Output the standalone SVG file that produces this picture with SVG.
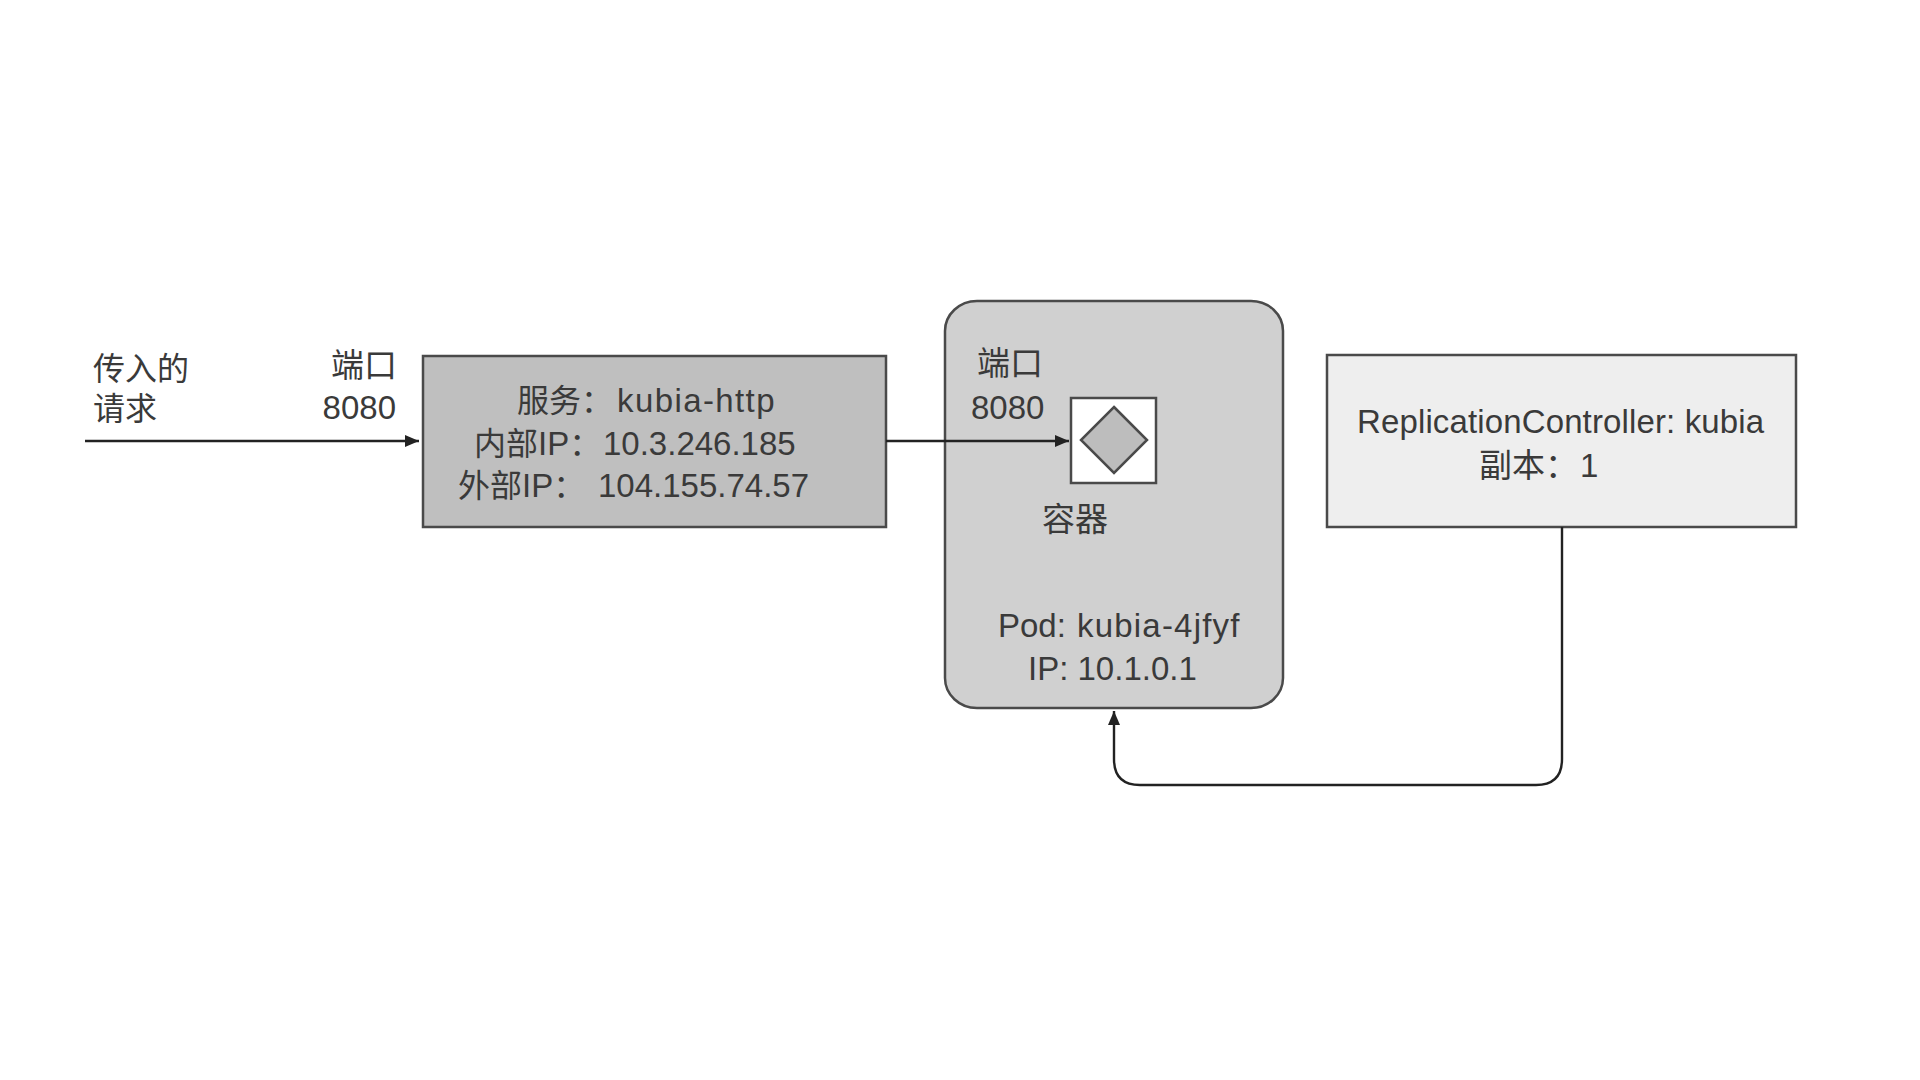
<svg xmlns="http://www.w3.org/2000/svg" width="1920" height="1080" viewBox="0 0 1920 1080">
<style>
text{font-family:"Liberation Sans","Noto Sans CJK SC",sans-serif;font-size:33px;fill:#3a3a3a}
.c{font-family:"Noto Sans CJK SC","Liberation Sans",sans-serif;font-size:33px}
.s{font-family:"Noto Sans CJK SC","Liberation Sans",sans-serif;font-size:32px}
.b{stroke:#4a4a4a;stroke-width:2.5}
.l{fill:none;stroke:#222;stroke-width:2.4}
</style>
<defs><marker id="a" markerUnits="userSpaceOnUse" markerWidth="14" markerHeight="12" refX="14" refY="6" orient="auto"><path d="M0 0L14 6L0 12Z" fill="#222"/></marker></defs>
<rect width="1920" height="1080" fill="#fff"/>
<g id="incoming-label"><text class="s" x="93" y="380">传入的</text><text class="s" x="93" y="420">请求</text></g>
<g id="service-port"><text class="c" x="397" y="377" text-anchor="end">端口</text><text x="396" y="419" text-anchor="end">8080</text></g>
<g id="service">
<rect class="b" x="423" y="356" width="463" height="171" fill="#bfbfbf"/>
<text x="517" y="412"><tspan class="s">服务：</tspan><tspan x="617" letter-spacing="1.4">kubia-http</tspan></text>
<text x="474" y="455"><tspan class="s">内部</tspan>IP<tspan class="s">：</tspan><tspan x="603">10.3.246.185</tspan></text>
<text x="458" y="497"><tspan class="s">外部</tspan>IP<tspan class="s">：</tspan><tspan x="598">104.155.74.57</tspan></text>
</g>
<g id="pod">
<rect class="b" x="945" y="301" width="338" height="407" rx="32" ry="30" fill="#d0d0d0"/>
<text class="c" x="977" y="375">端口</text>
<text x="971" y="419">8080</text>
<text class="c" x="1042" y="531">容器</text>
<text x="998" y="637">Pod: <tspan x="1077" letter-spacing="1.2">kubia-4jfyf</tspan></text>
<text x="1028" y="680">IP: 10.1.0.1</text>
</g>
<g id="container">
<rect class="b" x="1071" y="398" width="85" height="85" fill="#fff"/>
<path class="b" d="M1114 407L1147 440L1114 473L1081 440Z" fill="#bdbdbd"/>
</g>
<g id="replication-controller">
<rect class="b" x="1327" y="355" width="469" height="172" fill="#eeeeee"/>
<text x="1357" y="433" letter-spacing="0.13">ReplicationController: kubia</text>
<text x="1479" y="477"><tspan class="c">副本：</tspan><tspan x="1580">1</tspan></text>
</g>
<g id="connectors">
<path class="l" d="M85 441H419" marker-end="url(#a)"/>
<path class="l" d="M886 441H1069" marker-end="url(#a)"/>
<path class="l" d="M1562 527V759Q1562 785 1536 785H1140Q1114 785 1114 759V711" marker-end="url(#a)"/>
</g>
</svg>
